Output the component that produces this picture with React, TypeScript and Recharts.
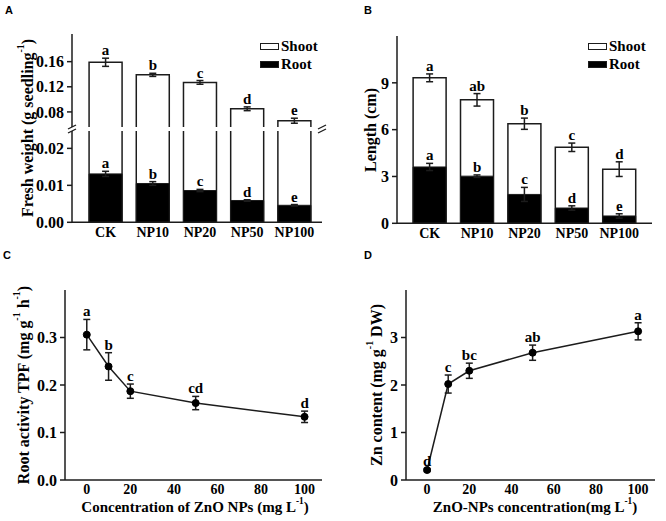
import React from 'react';
import {
  ComposedChart,
  Bar,
  Line,
  XAxis,
  YAxis,
  ErrorBar,
  LabelList,
  Legend,
} from 'recharts';

// ---------------- DATA ----------------
const categories = ['CK', 'NP10', 'NP20', 'NP50', 'NP100'];

// Panel A: fresh weight (g seedling-1)
const fwShootTop = [0.159, 0.139, 0.127, 0.085, 0.066];
const fwShootErr = [0.0065, 0.0025, 0.003, 0.003, 0.004];
const fwShootLetters = ['a', 'b', 'c', 'd', 'e'];
const fwRoot = [0.0131, 0.0105, 0.0086, 0.0059, 0.0046];
const fwRootErr = [0.0007, 0.0005, 0.0003, 0.0002, 0.0002];
const fwRootLetters = ['a', 'b', 'c', 'd', 'e'];
const fwUpperTicks = [0.08, 0.12, 0.16];
const fwLowerTicks = [0, 0.01, 0.02];

// Panel B: length (cm)
const lenShootTop = [9.32, 7.91, 6.38, 4.87, 3.47];
const lenShootErr = [0.25, 0.4, 0.36, 0.27, 0.47];
const lenShootLetters = ['a', 'ab', 'b', 'c', 'd'];
const lenRoot = [3.61, 3.02, 1.85, 0.98, 0.47];
const lenRootErr = [0.23, 0.08, 0.45, 0.14, 0.14];
const lenRootLetters = ['a', 'b', 'c', 'd', 'e'];
const lenTicks = [0, 3, 6, 9];

// Panel C: root activity
const concentrations = [0, 10, 20, 50, 100];
const tpf = [0.306, 0.239, 0.187, 0.162, 0.133];
const tpfErr = [0.032, 0.029, 0.015, 0.014, 0.012];
const tpfLetters = ['a', 'b', 'c', 'cd', 'd'];
const tpfTicks = [0, 0.1, 0.2, 0.3];

// Panel D: Zn content
const zn = [0.21, 2.02, 2.3, 2.68, 3.13];
const znErr = [0.03, 0.19, 0.16, 0.16, 0.18];
const znLetters = ['d', 'c', 'bc', 'ab', 'a'];
const znTicks = [0, 1, 2, 3];

const concTicks = [0, 20, 40, 60, 80, 100];

// ---------------- TABLES ----------------
const fwData = categories.map((name, i) => ({
  name,
  shootTop: fwShootTop[i],
  shootErr: fwShootErr[i],
  shootLabelY: fwShootTop[i] + fwShootErr[i],
  shootLetter: fwShootLetters[i],
  root: fwRoot[i],
  rootErr: fwRootErr[i],
  rootLabelY: fwRoot[i] + fwRootErr[i],
  rootLetter: fwRootLetters[i],
}));

const lenData = categories.map((name, i) => ({
  name,
  shootTop: lenShootTop[i],
  shootErr: lenShootErr[i],
  shootLabelY: lenShootTop[i] + lenShootErr[i],
  shootLetter: lenShootLetters[i],
  root: lenRoot[i],
  rootErr: lenRootErr[i],
  rootLabelY: lenRoot[i] + lenRootErr[i],
  rootLetter: lenRootLetters[i],
}));

const tpfData = concentrations.map((c, i) => ({
  c,
  v: tpf[i],
  err: tpfErr[i],
  labelY: tpf[i] + tpfErr[i],
  letter: tpfLetters[i],
}));

const znData = concentrations.map((c, i) => ({
  c,
  v: zn[i],
  err: znErr[i],
  labelY: zn[i] + znErr[i],
  letter: znLetters[i],
}));

// ---------------- STYLE ----------------
const SERIF = '"Liberation Serif", "Times New Roman", serif';
const SANS = '"Liberation Sans", Arial, sans-serif';
const AX = '#1c1c1c';
const AXW = 1.5;

const yTick = { fill: '#000', fontSize: 16, fontFamily: SERIF, fontWeight: 700 };
const xCatTick = { fill: '#000', fontSize: 14, fontFamily: SERIF, fontWeight: 700 };
const xNumTick = { fill: '#000', fontSize: 14, fontFamily: SERIF, fontWeight: 700 };
const axisLine = { stroke: AX, strokeWidth: AXW };
const tickLine = { stroke: AX, strokeWidth: AXW };
const letterStyle = { fill: '#000', fontSize: 15, fontFamily: SERIF, fontWeight: 700 };
const NoTick = () => <g />;

type Part = { t: string; sup?: boolean };

function TitleText({ x, y, angle, parts, size }: { x: number; y: number; angle?: number; parts: Part[]; size: number }) {
  const kids: any[] = [];
  let up = false;
  parts.forEach((p, i) => {
    if (p.sup) {
      kids.push(
        <tspan key={i} dy={-size * 0.42} fontSize={size * 0.62}>
          {p.t}
        </tspan>
      );
      up = true;
    } else if (up) {
      kids.push(
        <tspan key={i} dy={size * 0.42}>
          {p.t}
        </tspan>
      );
      up = false;
    } else {
      kids.push(<tspan key={i}>{p.t}</tspan>);
    }
  });
  return (
    <text
      x={x}
      y={y}
      textAnchor="middle"
      dominantBaseline="central"
      transform={angle ? `rotate(${angle}, ${x}, ${y})` : undefined}
      fontFamily={SERIF}
      fontWeight={700}
      fontSize={size}
      fill="#000"
      style={{ whiteSpace: 'pre' }}
    >
      {kids}
    </text>
  );
}

const OpenTopBar = (props: any) => {
  const { x, y, width, height } = props;
  if (x == null || y == null || !width || height == null) return null;
  return (
    <g>
      <rect x={x} y={y} width={width} height={height} fill="#fff" />
      <path
        d={`M${x},${y + height} L${x},${y} L${x + width},${y} L${x + width},${y + height}`}
        fill="none"
        stroke={AX}
        strokeWidth={1.5}
      />
    </g>
  );
};

const LegendBox = () => (
  <div style={{ fontFamily: SERIF, fontWeight: 700, fontSize: 15, lineHeight: '18px', color: '#000', whiteSpace: 'nowrap' }}>
    <div style={{ display: 'flex', alignItems: 'center' }}>
      <span style={{ display: 'inline-block', width: 17, height: 5, border: `1.5px solid ${AX}`, background: '#fff', marginRight: 2 }} />
      Shoot
    </div>
    <div style={{ display: 'flex', alignItems: 'center' }}>
      <span style={{ display: 'inline-block', width: 17, height: 5, border: `1.5px solid ${AX}`, background: '#000', marginRight: 2 }} />
      Root
    </div>
  </div>
);

// ---------------- PANEL A ----------------
const PAD_A = { left: 10, right: 4 };

function PanelA() {
  return (
    <div style={{ position: 'absolute', left: 0, top: 0, width: 333, height: 260 }}>
      {/* upper segment */}
      <div style={{ position: 'absolute', left: 0, top: 0 }}>
        <ComposedChart width={333} height={260} data={fwData} margin={{ top: 34, right: 11, bottom: 133, left: 0 }} barCategoryGap="15%">
          <XAxis xAxisId="a" dataKey="name" hide padding={PAD_A} />
          <XAxis xAxisId="top" dataKey="name" orientation="top" height={0} tick={false} tickLine={false} axisLine={axisLine} />
          <YAxis
            yAxisId="l"
            width={72}
            domain={[0.056, 0.204]}
            allowDataOverflow
            ticks={fwUpperTicks}
            tickFormatter={(v: number) => v.toFixed(2)}
            tick={yTick}
            tickSize={5}
            tickMargin={3}
            tickLine={tickLine}
            axisLine={axisLine}
          />
          <YAxis yAxisId="r" orientation="right" width={0} domain={[0, 1]} tick={false} tickLine={false} axisLine={axisLine} />
          <Bar xAxisId="a" yAxisId="l" dataKey="shootTop" shape={(p: any) => <OpenTopBar {...p} />} isAnimationActive={false}>
            <ErrorBar dataKey="shootErr" direction="y" width={3.5} stroke={AX} strokeWidth={1.5} />
          </Bar>
          <Line xAxisId="a" yAxisId="l" dataKey="shootLabelY" stroke="none" dot={false} activeDot={false} legendType="none" isAnimationActive={false}>
            <LabelList dataKey="shootLetter" position="top" offset={3} style={letterStyle} />
          </Line>
          <Legend content={LegendBox} layout="horizontal" verticalAlign="middle" align="center" wrapperStyle={{ left: 260, top: 37, width: 70 }} />
        </ComposedChart>
      </div>
      {/* lower segment */}
      <div style={{ position: 'absolute', left: 0, top: 0 }}>
        <ComposedChart width={333} height={260} data={fwData} margin={{ top: 131, right: 11, bottom: 7.7, left: 0 }} barCategoryGap="15%">
          <XAxis
            xAxisId="a"
            dataKey="name"
            height={30}
            padding={PAD_A}
            tickLine={false}
            tickSize={0}
            tickMargin={5}
            tick={xCatTick}
            axisLine={axisLine}
            interval={0}
          />
          <XAxis xAxisId="b" dataKey="name" hide padding={PAD_A} />
          <YAxis
            yAxisId="l"
            width={72}
            domain={[0, 0.0247]}
            allowDataOverflow
            ticks={fwLowerTicks}
            tickFormatter={(v: number) => v.toFixed(2)}
            tick={yTick}
            tickSize={5}
            tickMargin={3}
            tickLine={tickLine}
            axisLine={axisLine}
            label={(p: any) => (
              <TitleText
                x={(p.viewBox?.x ?? 0) + 27}
                y={128}
                angle={-90}
                size={16}
                parts={[{ t: 'Fresh weight (g seedling' }, { t: '-1', sup: true }, { t: ')' }]}
              />
            )}
          />
          <YAxis yAxisId="r" orientation="right" width={0} domain={[0, 1]} tick={false} tickLine={false} axisLine={axisLine} />
          <Bar xAxisId="a" yAxisId="l" dataKey="shootTop" shape={(p: any) => <OpenTopBar {...p} />} isAnimationActive={false} />
          <Bar xAxisId="b" yAxisId="l" dataKey="root" fill="#000" stroke={AX} strokeWidth={1} isAnimationActive={false}>
            <ErrorBar dataKey="rootErr" direction="y" width={3.5} stroke={AX} strokeWidth={1.5} />
          </Bar>
          <Line xAxisId="a" yAxisId="l" dataKey="rootLabelY" stroke="none" dot={false} activeDot={false} legendType="none" isAnimationActive={false}>
            <LabelList dataKey="rootLetter" position="top" offset={3} style={letterStyle} />
          </Line>
        </ComposedChart>
      </div>
      {/* axis break marks */}
      <svg width={333} height={260} style={{ position: 'absolute', left: 0, top: 0, pointerEvents: 'none' }}>
        {[72, 322].map((x) => (
          <g key={x} stroke={AX} strokeWidth={1.3}>
            <line x1={x - 4} y1={129} x2={x + 4} y2={125} />
            <line x1={x - 4} y1={133} x2={x + 4} y2={129} />
          </g>
        ))}
      </svg>
    </div>
  );
}

// ---------------- PANEL B ----------------
const PAD_B = { left: 9, right: 9 };

function PanelB() {
  return (
    <div style={{ position: 'absolute', left: 333, top: 0, width: 333, height: 260 }}>
      <ComposedChart width={333} height={260} data={lenData} margin={{ top: 36, right: 14, bottom: 6.7, left: 0 }} barCategoryGap="15%">
        <XAxis
          xAxisId="a"
          dataKey="name"
          height={30}
          padding={PAD_B}
          tickLine={false}
          tickSize={0}
          tickMargin={5}
          tick={xCatTick}
          axisLine={axisLine}
          interval={0}
        />
        <XAxis xAxisId="b" dataKey="name" hide padding={PAD_B} />
        <XAxis xAxisId="top" dataKey="name" orientation="top" height={0} tick={false} tickLine={false} axisLine={axisLine} />
        <YAxis
          yAxisId="l"
          width={64}
          domain={[0, 12]}
          ticks={lenTicks}
          tick={yTick}
          tickSize={5}
          tickMargin={3}
          tickLine={tickLine}
          axisLine={axisLine}
          label={(p: any) => (
            <TitleText x={(p.viewBox?.x ?? 0) + 37} y={130} angle={-90} size={16} parts={[{ t: 'Length (cm)' }]} />
          )}
        />
        <YAxis yAxisId="r" orientation="right" width={0} domain={[0, 1]} tick={false} tickLine={false} axisLine={axisLine} />
        <Bar xAxisId="a" yAxisId="l" dataKey="shootTop" shape={(p: any) => <OpenTopBar {...p} />} isAnimationActive={false}>
          <ErrorBar dataKey="shootErr" direction="y" width={3.5} stroke={AX} strokeWidth={1.5} />
        </Bar>
        <Bar xAxisId="b" yAxisId="l" dataKey="root" fill="#000" stroke={AX} strokeWidth={1} isAnimationActive={false}>
          <ErrorBar dataKey="rootErr" direction="y" width={3.5} stroke={AX} strokeWidth={1.5} />
        </Bar>
        <Line xAxisId="a" yAxisId="l" dataKey="shootLabelY" stroke="none" dot={false} activeDot={false} legendType="none" isAnimationActive={false}>
          <LabelList dataKey="shootLetter" position="top" offset={3} style={letterStyle} />
        </Line>
        <Line xAxisId="a" yAxisId="l" dataKey="rootLabelY" stroke="none" dot={false} activeDot={false} legendType="none" isAnimationActive={false}>
          <LabelList dataKey="rootLetter" position="top" offset={3} style={letterStyle} />
        </Line>
        <Legend content={LegendBox} layout="horizontal" verticalAlign="middle" align="center" wrapperStyle={{ left: 255, top: 37, width: 70 }} />
      </ComposedChart>
    </div>
  );
}

// ---------------- LINE PANELS ----------------
function LinePanel({
  left,
  data,
  plotLeft,
  domainY,
  ticksY,
  fmtY,
  yTitle,
  yTitleX,
  xTitle,
  xTitleX,
}: {
  left: number;
  data: any[];
  plotLeft: number;
  domainY: [number, number];
  ticksY: number[];
  fmtY: (v: number) => string;
  yTitle: Part[];
  yTitleX: number;
  xTitle: Part[];
  xTitleX: number;
}) {
  return (
    <div style={{ position: 'absolute', left, top: 260, width: 333, height: 261 }}>
      <ComposedChart width={333} height={261} data={data} margin={{ top: 30, right: 11, bottom: 1, left: 0 }}>
        {/* inward tick marks */}
        <XAxis
          xAxisId="in"
          dataKey="c"
          type="number"
          domain={[-10, 108]}
          ticks={concTicks}
          height={0}
          mirror
          tick={NoTick}
          tickSize={4}
          tickLine={tickLine}
          axisLine={false}
        />
        <XAxis
          xAxisId="a"
          dataKey="c"
          type="number"
          domain={[-10, 108]}
          ticks={concTicks}
          height={40}
          tick={xNumTick}
          tickSize={0}
          tickMargin={4}
          tickLine={false}
          axisLine={axisLine}
          label={(p: any) => (
            <TitleText x={xTitleX} y={(p.viewBox?.y ?? 220) + 27} size={15} parts={xTitle} />
          )}
        />
        <XAxis xAxisId="top" dataKey="c" type="number" domain={[-10, 108]} orientation="top" height={0} tick={false} tickLine={false} axisLine={axisLine} />
        <YAxis
          yAxisId="l"
          width={plotLeft}
          domain={domainY}
          ticks={ticksY}
          tickFormatter={fmtY}
          tick={yTick}
          tickSize={5}
          tickMargin={3}
          tickLine={tickLine}
          axisLine={axisLine}
          label={(p: any) => (
            <TitleText
              x={(p.viewBox?.x ?? 0) + yTitleX}
              y={(p.viewBox?.y ?? 30) + (p.viewBox?.height ?? 190) / 2}
              angle={-90}
              size={16}
              parts={yTitle}
            />
          )}
        />
        <YAxis yAxisId="r" orientation="right" width={0} domain={[0, 1]} tick={false} tickLine={false} axisLine={axisLine} />
        <Line
          xAxisId="a"
          yAxisId="l"
          dataKey="v"
          stroke={AX}
          strokeWidth={1.5}
          dot={{ r: 3.5, fill: '#000', stroke: '#000', strokeWidth: 1 }}
          activeDot={false}
          isAnimationActive={false}
        >
          <ErrorBar dataKey="err" direction="y" width={3.5} stroke={AX} strokeWidth={1.5} />
        </Line>
        <Line xAxisId="a" yAxisId="l" dataKey="labelY" stroke="none" dot={false} activeDot={false} legendType="none" isAnimationActive={false}>
          <LabelList dataKey="letter" position="top" offset={3} style={letterStyle} />
        </Line>
      </ComposedChart>
    </div>
  );
}

const panelLetter = (t: string, x: number, y: number) => (
  <div
    style={{
      position: 'absolute',
      left: x,
      top: y,
      fontFamily: SANS,
      fontWeight: 700,
      fontSize: 11,
      lineHeight: '11px',
      color: '#000',
    }}
  >
    {t}
  </div>
);

export default function App() {
  return (
    <div style={{ position: 'absolute', left: 0, top: 0, width: 666, height: 521, background: '#fff', overflow: 'hidden' }}>
      <PanelA />
      <PanelB />
      <LinePanel
        left={0}
        data={tpfData}
        plotLeft={65}
        domainY={[0, 0.4]}
        ticksY={tpfTicks}
        fmtY={(v) => v.toFixed(1)}
        yTitle={[{ t: 'Root activity TPF (mg g' }, { t: '-1', sup: true }, { t: ' h' }, { t: '-1', sup: true }, { t: ')' }]}
        yTitleX={23}
        xTitle={[{ t: 'Concentration of ZnO NPs (mg L' }, { t: '-1', sup: true }, { t: ')' }]}
        xTitleX={195}
      />
      <LinePanel
        left={333}
        data={znData}
        plotLeft={73}
        domainY={[0, 4]}
        ticksY={znTicks}
        fmtY={(v) => String(v)}
        yTitle={[{ t: 'Zn content (mg g' }, { t: '-1', sup: true }, { t: ' DW)' }]}
        yTitleX={43}
        xTitle={[{ t: 'ZnO-NPs concentration(mg L' }, { t: '-1', sup: true }, { t: ')' }]}
        xTitleX={202}
      />
      {panelLetter('A', 5, 5)}
      {panelLetter('B', 364, 5)}
      {panelLetter('C', 3, 250)}
      {panelLetter('D', 364, 250)}
    </div>
  );
}
